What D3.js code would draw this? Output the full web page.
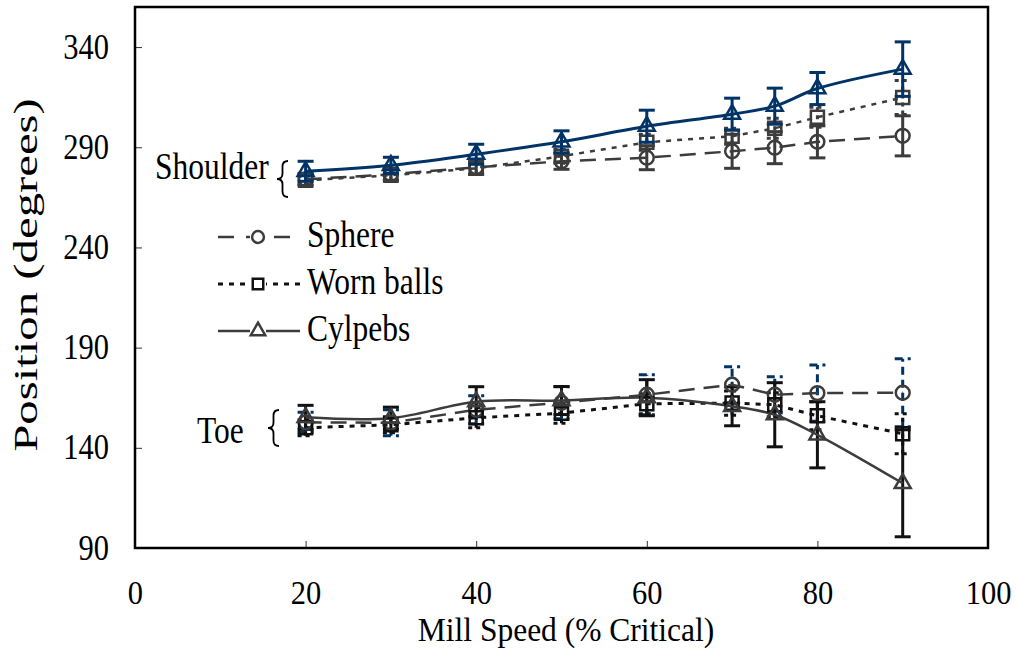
<!DOCTYPE html>
<html>
<head>
<meta charset="utf-8">
<script src="https://cdn.jsdelivr.net/npm/d3@7"></script>
<style>
  html, body { margin: 0; padding: 0; background: #fff; }
  svg { display: block; }
  text { font-family: "Liberation Serif", "Times New Roman", serif; fill: #000; }
</style>
</head>
<body>
<svg id="chart" width="1016" height="648"></svg>
<script>
// Mill speeds (% of critical) at which positions were measured
const speeds = [20, 30, 40, 50, 60, 70, 75, 80, 90];

// Shoulder positions (degrees) and error half-widths
const shoulderSphere   = [274, 276.5, 280, 283, 284.8, 288, 289.8, 292.7, 295.7];
const shoulderSphereErr = [3, 3, 3.5, 4, 6, 8.5, 8, 8, 10];
const shoulderWorn     = [273.5, 276, 279.5, 285.5, 292.5, 295.5, 299.5, 305, 314.8];
const shoulderWornErr  = [2, 2.5, 3, 3.5, 4, 4, 5, 5, 8.5];
const shoulderCyl      = [278, 281, 286.5, 292.7, 300.5, 306.5, 310.5, 319.3, 329];
const shoulderCylErr   = [5, 4, 5, 5.5, 8, 8, 9, 8, 13.6];

// Toe positions (degrees) and error half-widths
const toeSphere    = [152.7, 152.5, 159, 162.5, 166.5, 171.5, 166.5, 167.3, 167.5];
const toeSphereErr = [5, 6.5, 7, 8, 10, 9, 9, 14, 17];
const toeWorn      = [150, 151.5, 155, 157.3, 162, 162.3, 161.5, 156, 147];
const toeWornErr   = [4, 4, 5, 5, 5, 6, 6, 7, 10];
const toeCyl       = [155.2, 154.8, 163, 163.6, 165, 160.7, 156.5, 146.5, 122.3];
const toeCylErr    = [6, 5.5, 7.5, 7, 9, 9.7, 16, 16.5, 26.7];

// Axis ticks
const xTicks = [0, 20, 40, 60, 80, 100];
const yTicks = [90, 140, 190, 240, 290, 340];

const legendNames = ["Sphere", "Worn balls", "Cylpebs"];

const plot = { left: 135, right: 988, top: 7, bottom: 548 };
const textStretch = 1.2;    // vertical scale applied to horizontal lettering
const NAVY = "#003366", GREY = "#3c3c3c", BLACK = "#111";
const LABEL_FONT = "31.5px", TICK_FONT = "30.5px";

const svg = d3.select("#chart");
const x = d3.scaleLinear().domain([0, 100]).range([plot.left, plot.right]);
const y = d3.scaleLinear().domain([90, 360]).range([plot.bottom, plot.top]);

// ---- axes (ticks point inward) ----
const xAxis = svg.append("g")
  .attr("transform", `translate(0,${plot.bottom})`)
  .call(d3.axisBottom(x).tickValues(xTicks).tickSize(-7).tickPadding(0).tickFormat(d3.format("d")));
xAxis.select(".domain").remove();
xAxis.selectAll(".tick line").attr("stroke", "#333").attr("stroke-width", 1);
xAxis.selectAll(".tick text")
  .attr("y", 0).attr("dy", null)
  .attr("transform", `translate(0,56) scale(1,1.1)`)
  .style("font-size", TICK_FONT).style("font-family", "Liberation Serif");

const yAxis = svg.append("g")
  .attr("transform", `translate(${plot.left},0)`)
  .call(d3.axisLeft(y).tickValues(yTicks).tickSize(-7).tickPadding(0).tickFormat(d3.format("d")));
yAxis.select(".domain").remove();
yAxis.selectAll(".tick line").attr("stroke", "#333").attr("stroke-width", 1);
yAxis.selectAll(".tick text")
  .attr("x", 0).attr("dy", null).attr("y", 0)
  .attr("text-anchor", "end")
  .attr("transform", `translate(-26,11) scale(1,${textStretch})`)
  .style("font-size", TICK_FONT).style("font-family", "Liberation Serif");

// plot frame
svg.append("rect")
  .attr("x", plot.left).attr("y", plot.top)
  .attr("width", plot.right - plot.left).attr("height", plot.bottom - plot.top)
  .attr("fill", "none").attr("stroke", "#000").attr("stroke-width", 2.5);

// axis titles
svg.append("text")
  .attr("transform", `translate(566,641) scale(1,1.05)`)
  .attr("text-anchor", "middle")
  .style("font-size", LABEL_FONT)
  .text("Mill Speed (% Critical)");

svg.append("text")
  .attr("transform", `translate(37,275) scale(0.85,1.22) rotate(-90)`)
  .attr("text-anchor", "middle")
  .style("font-size", "40px")
  .text("Position (degrees)");

// ---- series helpers ----
function errorBars(g, vals, errs, opts) {
  const cap = 8;
  const data = speeds.map((s, i) => ({ s, v: vals[i], e: errs[i] }));
  const eg = g.append("g")
    .attr("stroke", opts.color).attr("stroke-width", opts.width || 3)
    .attr("stroke-dasharray", opts.dash || null).attr("fill", "none");
  eg.selectAll("line.v").data(data).join("line").attr("class", "v")
    .attr("x1", d => x(d.s)).attr("x2", d => x(d.s))
    .attr("y1", d => y(d.v - d.e)).attr("y2", d => y(d.v + d.e));
  eg.selectAll("line.t").data(data).join("line").attr("class", "t")
    .attr("x1", d => x(d.s) - cap).attr("x2", d => x(d.s) + cap)
    .attr("y1", d => y(d.v + d.e)).attr("y2", d => y(d.v + d.e));
  eg.selectAll("line.b").data(data).join("line").attr("class", "b")
    .attr("x1", d => x(d.s) - cap).attr("x2", d => x(d.s) + cap)
    .attr("y1", d => y(d.v - d.e)).attr("y2", d => y(d.v - d.e));
}

function seriesLine(g, vals, opts) {
  const line = d3.line()
    .x((d, i) => x(speeds[i])).y(d => y(d))
    .curve(opts.smooth ? d3.curveCatmullRom.alpha(0.5) : d3.curveLinear);
  g.append("path").attr("d", line(vals))
    .attr("fill", "none").attr("stroke", opts.color)
    .attr("stroke-width", opts.width || 2.5)
    .attr("stroke-dasharray", opts.dash || null);
}

function markerPath(type, size) {
  const sym = { circle: d3.symbolCircle, square: d3.symbolSquare, triangle: d3.symbolTriangle }[type];
  return d3.symbol().type(sym).size(size)();
}

function markers(g, vals, opts) {
  g.append("g").selectAll("path").data(vals).join("path")
    .attr("transform", (d, i) => `translate(${x(speeds[i])},${y(d)})`)
    .attr("d", markerPath(opts.type, opts.size))
    .attr("fill", "none").attr("stroke", opts.color).attr("stroke-width", 2.5);
}

const sizes = { circle: 150, square: 170, triangle: 110 };
const toe = svg.append("g");
const shoulder = svg.append("g");

// ---- toe ----
errorBars(toe, toeSphere, toeSphereErr, { color: NAVY, dash: "8,5" });
errorBars(toe, toeWorn, toeWornErr, { color: BLACK, dash: "4,4" });
errorBars(toe, toeCyl, toeCylErr, { color: BLACK });
seriesLine(toe, toeSphere, { color: GREY, dash: "16,9" });
seriesLine(toe, toeWorn, { color: BLACK, dash: "5,6", width: 3 });
seriesLine(toe, toeCyl, { color: GREY, smooth: true });
markers(toe, toeSphere, { type: "circle", size: sizes.circle, color: GREY });
markers(toe, toeWorn, { type: "square", size: sizes.square, color: BLACK });
markers(toe, toeCyl, { type: "triangle", size: sizes.triangle, color: GREY });

// ---- shoulder ----
errorBars(shoulder, shoulderSphere, shoulderSphereErr, { color: GREY });
errorBars(shoulder, shoulderWorn, shoulderWornErr, { color: GREY, dash: "4,4" });
seriesLine(shoulder, shoulderSphere, { color: GREY, dash: "16,9" });
seriesLine(shoulder, shoulderWorn, { color: GREY, dash: "5,6" });
markers(shoulder, shoulderSphere, { type: "circle", size: sizes.circle, color: GREY });
markers(shoulder, shoulderWorn, { type: "square", size: sizes.square, color: GREY });
errorBars(shoulder, shoulderCyl, shoulderCylErr, { color: NAVY });
seriesLine(shoulder, shoulderCyl, { color: NAVY, smooth: true, width: 3 });
markers(shoulder, shoulderCyl, { type: "triangle", size: sizes.triangle, color: NAVY });

// ---- region labels with braces ----
function brace(cx, y0, y1, w) {
  const m = (y0 + y1) / 2;
  return `M${cx + w},${y0} Q${cx + w / 2},${y0} ${cx + w / 2},${y0 + w / 2}` +
         ` L${cx + w / 2},${m - w / 2} Q${cx + w / 2},${m} ${cx},${m}` +
         ` Q${cx + w / 2},${m} ${cx + w / 2},${m + w / 2}` +
         ` L${cx + w / 2},${y1 - w / 2} Q${cx + w / 2},${y1} ${cx + w},${y1}`;
}
svg.append("path").attr("d", brace(277, 161, 197, 11))
  .attr("fill", "none").attr("stroke", "#000").attr("stroke-width", 1.8);
svg.append("path").attr("d", brace(268, 410, 446, 11))
  .attr("fill", "none").attr("stroke", "#000").attr("stroke-width", 1.8);

svg.append("text").attr("transform", `translate(155,179) scale(1,${textStretch})`)
  .style("font-size", LABEL_FONT).text("Shoulder");
svg.append("text").attr("transform", `translate(197,443) scale(1,${textStretch})`)
  .style("font-size", LABEL_FONT).text("Toe");

// ---- legend ----
const legendStyles = [
  { type: "circle", color: GREY, dash: "16,12", width: 2.5 },
  { type: "square", color: BLACK, dash: "5,6", width: 3 },
  { type: "triangle", color: GREY, dash: null, width: 2.5 }
];
const legend = svg.append("g");
const legendY = d3.scalePoint().domain(legendNames).range([237, 331]);
legendNames.forEach((name, i) => {
  const st = legendStyles[i];
  const ly = legendY(name);
  legend.append("line").attr("x1", 218).attr("x2", 300).attr("y1", ly).attr("y2", ly)
    .attr("stroke", st.color).attr("stroke-width", st.width).attr("stroke-dasharray", st.dash);
  legend.append("rect").attr("x", 250).attr("y", ly - 8).attr("width", 16).attr("height", 16)
    .attr("fill", "#fff");
  legend.append("path").attr("transform", `translate(258,${ly})`)
    .attr("d", markerPath(st.type, st.type === "triangle" ? 90 : 110))
    .attr("fill", "#fff").attr("stroke", st.color).attr("stroke-width", 2.5);
  legend.append("text").attr("transform", `translate(307,${ly + 10}) scale(1,${textStretch})`)
    .style("font-size", LABEL_FONT).text(name);
});
</script>
</body>
</html>
